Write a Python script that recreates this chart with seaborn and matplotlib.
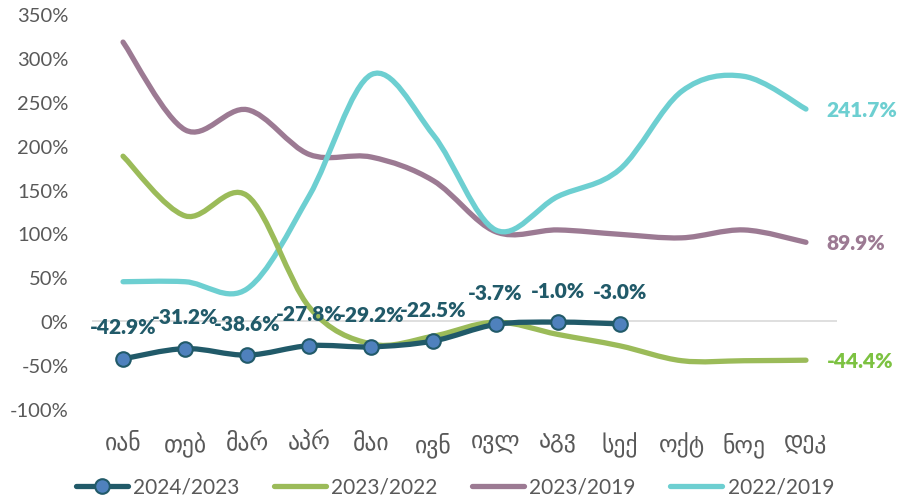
import numpy as np
import pandas as pd
import matplotlib
matplotlib.use("Agg")
import matplotlib.pyplot as plt
from matplotlib.path import Path
from matplotlib.patches import PathPatch
from matplotlib.lines import Line2D
import seaborn as sns

months = ["იან", "თებ", "მარ", "აპრ", "მაი", "ივნ", "ივლ", "აგვ", "სექ", "ოქტ", "ნოე", "დეკ"]
s_2024_2023 = [-42.9, -31.2, -38.6, -27.8, -29.2, -22.5, -3.7, -1.0, -3.0]
s_2023_2022 = [188, 120, 143, 16, -26, -17, -1, -15, -28, -45, -45, -44.4]
s_2023_2019 = [318, 218, 241, 190, 187, 160, 102, 104, 99, 95, 104, 89.9]
s_2022_2019 = [45, 45, 37, 143, 281, 212, 104, 142, 173, 262, 279, 241.7]
series_names = ["2024/2023", "2023/2022", "2023/2019", "2022/2019"]
yticks = [-100, -50, 0, 50, 100, 150, 200, 250, 300, 350]

TEAL = "#215A69"
MARK = "#4F81BD"
GREEN = "#9BBB59"
PURPLE = "#9C7A93"
CYAN = "#6DCFD1"
GREEN_LBL = "#7DC242"
TXT = "#595959"

sns.set_theme(style="white")
plt.rcParams["font.family"] = ["Lato", "DejaVu Sans"]

fig = plt.figure(figsize=(9.02, 5.02), dpi=100)
ax = fig.add_axes([92 / 902, (502 - 410) / 502, (837 - 92) / 902, (410 - 15) / 502])


def smooth_path(xs, ys):
    pts = np.column_stack([xs, ys]).astype(float)
    n = len(pts)
    verts = [pts[0]]
    codes = [Path.MOVETO]
    for i in range(n - 1):
        p0 = pts[i - 1] if i > 0 else pts[i]
        p1 = pts[i]
        p2 = pts[i + 1]
        p3 = pts[i + 2] if i + 2 < n else pts[i + 1]
        c1 = p1 + (p2 - p0) / 6.0
        c2 = p2 - (p3 - p1) / 6.0
        verts += [c1, c2, p2]
        codes += [Path.CURVE4] * 3
    return Path(verts, codes)


# zero line
ax.axhline(0, color="#D9D9D9", lw=1.2, zorder=1)

order = [(s_2023_2019, PURPLE), (s_2022_2019, CYAN), (s_2023_2022, GREEN), (s_2024_2023, TEAL)]
for vals, col in order:
    xs = np.arange(len(vals))
    p = smooth_path(xs, vals)
    ax.add_patch(PathPatch(p, facecolor="none", edgecolor=col, lw=3.8,
                           capstyle="round", joinstyle="round", zorder=3))

df = pd.DataFrame({"x": np.arange(len(s_2024_2023)), "y": s_2024_2023})
sns.scatterplot(data=df, x="x", y="y", ax=ax, s=110, color=MARK,
                edgecolor=TEAL, linewidth=1.5, zorder=5, legend=False)

for i, v in enumerate(s_2024_2023):
    ax.annotate(f"{v:.1f}%", (i, v), xytext=(0, 23), textcoords="offset points",
                ha="center", va="center", fontsize=15, fontweight="heavy",
                color=TEAL, zorder=6)

# end labels
end_labels = [(s_2022_2019, CYAN), (s_2023_2019, PURPLE), (s_2023_2022, GREEN_LBL)]
for vals, col in end_labels:
    ax.annotate(f"{vals[-1]:.1f}%", (len(vals) - 1, vals[-1]), xytext=(15, 0),
                textcoords="offset points", ha="left", va="center", fontsize=15,
                fontweight="heavy", color=col, annotation_clip=False)

ax.set_xlim(-0.5, 11.5)
ax.set_ylim(-100, 350)
ax.set_xticks(range(len(months)))
ax.set_xticklabels(months)
ax.set_yticks(yticks)
ax.set_yticklabels([f"{t}%" for t in yticks])
ax.tick_params(axis="y", labelsize=14.5, labelcolor=TXT, length=0, pad=17)
ax.tick_params(axis="x", labelsize=17, labelcolor=TXT, length=0, pad=16)
ax.set_xlabel("")
ax.set_ylabel("")
for sp in ax.spines.values():
    sp.set_visible(False)
ax.grid(False)

handles = [
    Line2D([], [], color=TEAL, lw=3.8, marker="o", markersize=10.5,
           markerfacecolor=MARK, markeredgecolor=TEAL, markeredgewidth=1.5),
    Line2D([], [], color=GREEN, lw=3.8),
    Line2D([], [], color=PURPLE, lw=3.8),
    Line2D([], [], color=CYAN, lw=3.8),
]
fig.legend(handles, series_names, loc="center", bbox_to_anchor=(455 / 902, 1 - 488 / 502),
           ncol=4, frameon=False, fontsize=15, labelcolor=TXT, handlelength=2.5,
           handletextpad=0.25, columnspacing=1.65)

fig.savefig("out.png", dpi=100)
